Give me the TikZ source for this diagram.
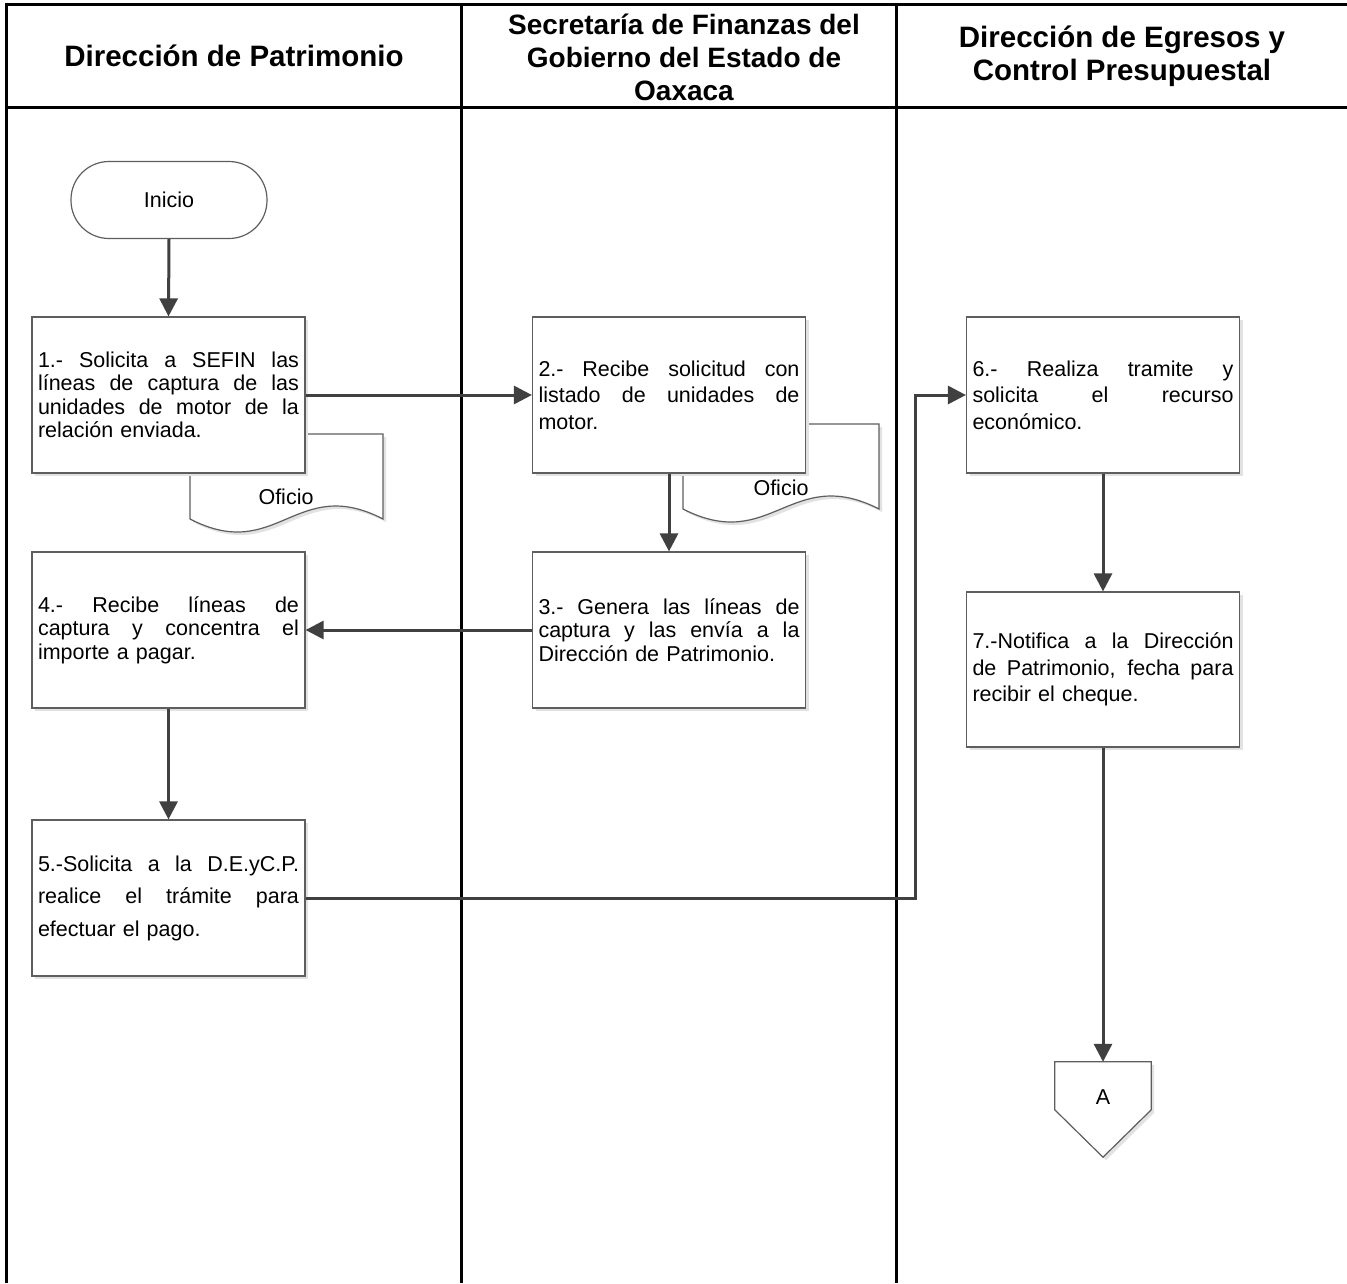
\documentclass[tikz,border=0pt]{standalone}
\usepackage{fontspec}
\setmainfont{Liberation Sans}
\usetikzlibrary{arrows.meta,shadows,calc}
\definecolor{boxgrey}{HTML}{5E5E5E}
\definecolor{arrowgrey}{HTML}{404040}
\definecolor{shadegrey}{HTML}{E2E2E2}
\newlength\bw
\setlength\bw{261pt}
\newcommand{\sline}[1]{\leavevmode\hbox to\bw{\spaceskip=0.28em plus 1fil\relax #1}}
\tikzset{
  frameline/.style={line width=3pt, black},
  proc/.style={draw=boxgrey, line width=1.2pt, fill=white,
    minimum width=273pt, minimum height=156pt, text width=261pt,
    align=left, inner sep=0pt, font=\fontsize{21.5}{26.5}\selectfont,
    drop shadow={shadow xshift=3pt, shadow yshift=-3pt, fill=shadegrey, opacity=1}},
  flow/.style={draw=arrowgrey, line width=3pt, -{Triangle[length=18pt,width=18pt]}},
  hdr/.style={font=\bfseries\fontsize{28}{33}\selectfont, align=center, inner sep=0pt},
  terminal/.style={draw=boxgrey, line width=1.2pt, fill=white, rounded corners=38pt,
    minimum width=196pt, minimum height=77pt, font=\fontsize{21.5}{26}\selectfont},
  doclabel/.style={font=\fontsize{21.5}{26}\selectfont, inner sep=0pt},
  docshape/.style={draw=boxgrey, line width=1.2pt, fill=white},
}
\begin{document}
\begin{tikzpicture}[x=1pt, y=-1pt]
\useasboundingbox (0,0) rectangle (1347,1283);
\fill[white] (0,0) rectangle (1347,1283);

% swimlane frame
\draw[frameline] (6,4) -- (1347,4);
\draw[frameline] (6,107) -- (1347,107);
\draw[frameline] (6,2.5) -- (6,1283);
\draw[frameline] (461,4) -- (461,1283);
\draw[frameline] (896,4) -- (896,1283);

% headers
\node[hdr, font=\bfseries\fontsize{29.5}{33}\selectfont] (h1) at (234,56) {Dirección de Patrimonio};
\node[hdr] (h2) at (684,57) {Secretaría de Finanzas del\\Gobierno del Estado de\\Oaxaca};
\node[hdr, font=\bfseries\fontsize{29.5}{33}\selectfont] (h3) at (1122,56) {Dirección de Egresos y\\Control Presupuestal};

% documents (behind boxes)
\fill[shadegrey] (193,437) -- (386,437) -- (386,522) .. controls (299,477) and (280,567) .. (193,522) -- cycle;
\draw[docshape] (190,434) -- (383,434) -- (383,519) .. controls (296,474) and (277,564) .. (190,519) -- cycle;
\fill[shadegrey] (686,427) -- (882,427) -- (882,512) .. controls (794,467) and (774,557) .. (686,512) -- cycle;
\draw[docshape] (683,424) -- (879,424) -- (879,509) .. controls (791,464) and (771,554) .. (683,509) -- cycle;

% start
\node[terminal] (ini) at (169,200) {Inicio};

% process boxes
\node[proc, font=\fontsize{21.5}{23.5}\selectfont] (b1) at (168.5,395)
  {\sline{1.- Solicita a SEFIN las}\\\sline{líneas de captura de las}\\\sline{unidades de motor de la}\\relación enviada.};
\node[proc] (b2) at (669,395)
  {\sline{2.- Recibe solicitud con}\\\sline{listado de unidades de}\\motor.};
\node[proc, font=\fontsize{21.5}{23.5}\selectfont] (b3) at (669,630)
  {\sline{3.- Genera las líneas de}\\\sline{captura y las envía a la}\\Dirección de Patrimonio.};
\node[proc, font=\fontsize{21.5}{23.5}\selectfont] (b4) at (168.5,630)
  {\sline{4.- Recibe líneas de}\\\sline{captura y concentra el}\\importe a pagar.};
\node[proc, font=\fontsize{21.5}{32.5}\selectfont] (b5) at (168.5,898)
  {\sline{5.-Solicita a la D.E.yC.P.}\\\sline{realice el trámite para}\\efectuar el pago.};
\node[proc] (b6) at (1103,395)
  {\sline{6.- Realiza tramite y}\\\sline{solicita el recurso}\\económico.};
\node[proc, minimum height=155pt] (b7) at (1103,669.5)
  {\sline{7.-Notifica a la Dirección}\\\sline{de Patrimonio, fecha para}\\recibir el cheque.};

% document labels
\node[doclabel] (o1) at (286,497) {Oficio};
\node[doclabel] (o2) at (781,488) {Oficio};

% off-page connector A
\node[minimum width=96pt, minimum height=95pt, inner sep=0pt] (A) at (1103,1109.5) {};
\fill[shadegrey] ($(A.north west)+(3,3)$) -- ($(A.north east)+(3,3)$) -- ($(A.north east)+(3,51)$) -- ($(A.south)+(3,3)$) -- ($(A.north west)+(3,51)$) -- cycle;
\draw[docshape] (A.north west) -- (A.north east) -- ($(A.north east)+(0,48)$) -- (A.south) -- ($(A.north west)+(0,48)$) -- cycle;
\node[doclabel] (Atxt) at (1103,1097) {A};

% connectors
\draw[flow] (ini.south) -- (b1.north);
\draw[flow] (b1.east) -- (b2.west);
\draw[flow] (b2.south) -- (b3.north);
\draw[flow] (b3.west) -- (b4.east);
\draw[flow] (b4.south) -- (b5.north);
\draw[flow] (b5.east) -| ([xshift=-50pt]b6.west) -- (b6.west);
\draw[flow] (b6.south) -- (b7.north);
\draw[flow] (b7.south) -- (A.north);
\end{tikzpicture}
\end{document}
